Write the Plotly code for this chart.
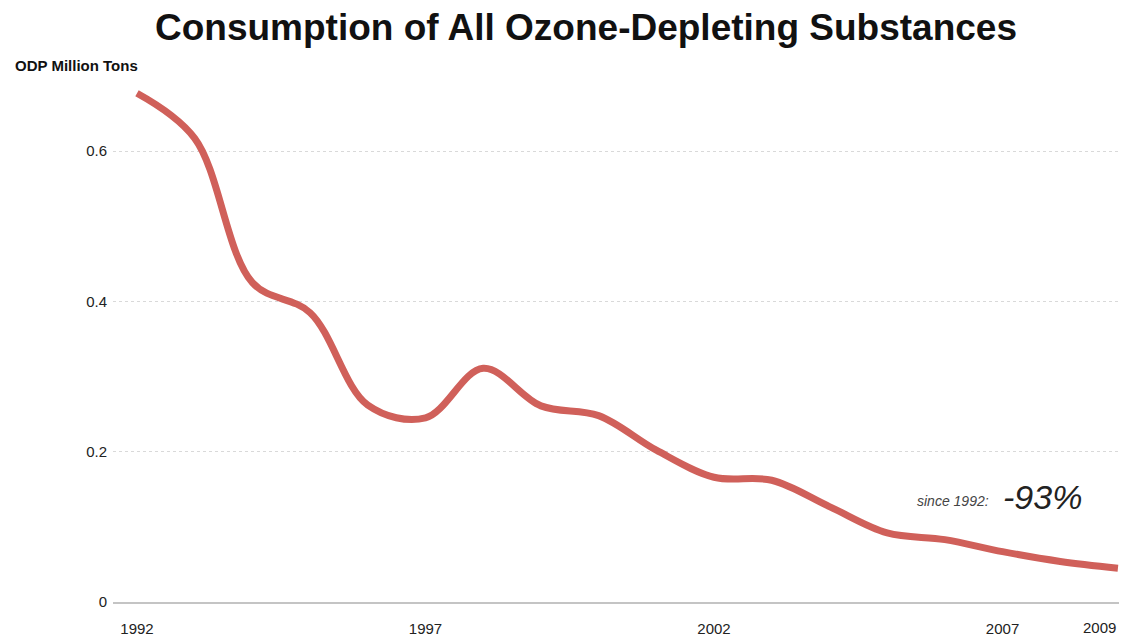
import plotly.graph_objects as go

years = list(range(1992, 2010))
consumption = [0.677, 0.617, 0.425, 0.385, 0.262, 0.245, 0.311, 0.261, 0.248,
               0.202, 0.166, 0.162, 0.127, 0.092, 0.083, 0.067, 0.054, 0.045]
x_ticks = [1992, 1997, 2002, 2007]
edge_tick = 2009
y_ticks = [0, 0.2, 0.4, 0.6]

title = "Consumption of All Ozone-Depleting Substances"
unit = "ODP Million Tons"
change_label = "since 1992:"
change_value = "-93%"

FONT = "Liberation Sans, Arial, sans-serif"

# the page body adds an 8px margin; size the figure to fit the window
W, H = 1119, 629
ML, MR, MT, MB = 105, 0, 68, 35
PW = W - ML - MR
PH = H - MT - MB

fig = go.Figure()
fig.add_trace(go.Scatter(
    x=years, y=consumption, mode="lines",
    line=dict(color="#d0605a", width=7, shape="spline", smoothing=1),
    hoverinfo="x+y", showlegend=False, cliponaxis=False,
))

fig.update_layout(
    width=W, height=H,
    margin=dict(l=ML, r=MR, t=MT, b=MB),
    paper_bgcolor="white", plot_bgcolor="white",
    font=dict(family=FONT, color="#222"),
    title=dict(text="<b>" + title + "</b>", x=578 / W, xanchor="center",
               y=1 - 19 / H, yanchor="middle",
               font=dict(size=37, color="#111", family=FONT)),
    xaxis=dict(range=[1991.584, 2009.157], tickvals=x_ticks,
               ticktext=[str(v) for v in x_ticks],
               showgrid=False, zeroline=False, showline=True,
               linecolor="#c4c4c4", linewidth=2, ticks="",
               ticklabelstandoff=12,
               tickfont=dict(size=15, color="#222")),
    yaxis=dict(range=[0, 0.7], tickvals=y_ticks,
               ticktext=["0", "0.2", "0.4", "0.6"],
               showgrid=True, gridcolor="#d9d9d9", griddash="dot",
               gridwidth=1, zeroline=False, showline=False, ticks="",
               ticklabelstandoff=5,
               tickfont=dict(size=15, color="#222")),
    annotations=[
        dict(text="<b>" + unit + "</b>", xref="paper", yref="paper",
             x=(5 - ML) / PW, y=1 + 10 / PH, xanchor="left",
             yanchor="middle", showarrow=False,
             font=dict(size=15, color="#111", family=FONT)),
        dict(text=str(edge_tick), xref="x", yref="paper", x=edge_tick,
             y=0, yshift=-25, xanchor="right", yanchor="middle",
             showarrow=False, font=dict(size=15, color="#222", family=FONT)),
        dict(text="<i>" + change_label + "</i>", xref="x", yref="y",
             x=2006.8, y=0.134, xanchor="right", yanchor="middle",
             showarrow=False, font=dict(size=14, color="#444", family=FONT)),
        dict(text="<i>" + change_value + "</i>", xref="x", yref="y",
             x=2006.98, y=0.140, xanchor="left", yanchor="middle",
             showarrow=False, font=dict(size=34, color="#222", family=FONT)),
    ],
)

fig.write_html("out.html")
